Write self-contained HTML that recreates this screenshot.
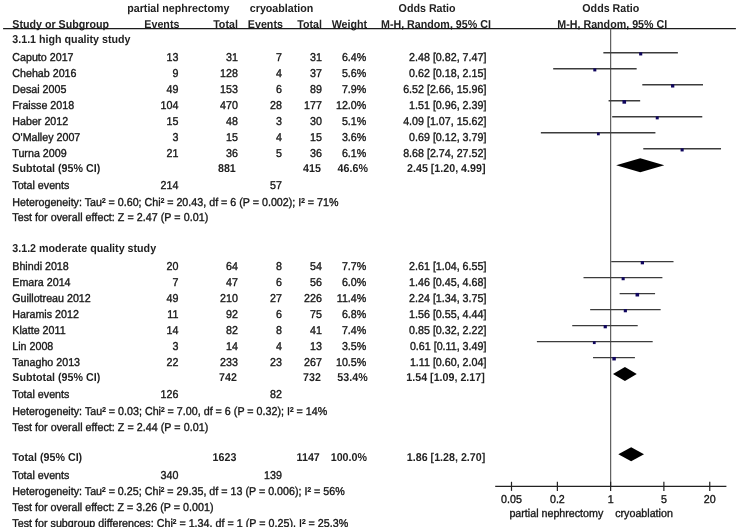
<!DOCTYPE html>
<html><head><meta charset="utf-8"><style>
html,body{margin:0;padding:0;background:#fff;}
body{width:740px;height:531px;overflow:hidden;}
svg{display:block;will-change:transform;}
text{font-family:"Liberation Sans",Arial,sans-serif;font-size:11.4px;fill:#151515;stroke:#151515;stroke-width:0.35px;text-rendering:geometricPrecision;}
text[font-weight="bold"]{stroke:none;fill:#222;}
.ci{stroke:#3c3c3c;stroke-width:1.4;stroke-linecap:square;}
.ax{stroke:#222;stroke-width:1.2;}
.sq{fill:#10065e;}
.dm{fill:#000;}
.vl{stroke:#5e5e5e;stroke-width:1.2;}
.hl{stroke:#1c1c1c;stroke-width:1.2;}
</style></head><body>
<svg width="740" height="531" viewBox="0 0 740 531">
<line x1="3.1" y1="28.6" x2="735.9" y2="28.6" class="hl"/>
<line x1="610.63" y1="28.6" x2="610.63" y2="486.3" class="vl"/>
<line x1="604.06" y1="52.80" x2="677.17" y2="52.80" class="ci"/>
<rect x="639.13" y="52.34" width="3.12" height="3.12" class="sq"/>
<line x1="553.89" y1="68.80" x2="635.96" y2="68.80" class="ci"/>
<rect x="593.30" y="68.38" width="3.03" height="3.03" class="sq"/>
<line x1="643.00" y1="84.80" x2="702.29" y2="84.80" class="ci"/>
<rect x="671.04" y="84.27" width="3.26" height="3.26" class="sq"/>
<line x1="609.28" y1="100.80" x2="639.46" y2="100.80" class="ci"/>
<rect x="622.47" y="100.10" width="3.60" height="3.60" class="sq"/>
<line x1="612.87" y1="116.80" x2="701.58" y2="116.80" class="ci"/>
<rect x="655.75" y="116.41" width="2.97" height="2.97" class="sq"/>
<line x1="541.56" y1="132.80" x2="654.72" y2="132.80" class="ci"/>
<rect x="596.96" y="132.51" width="2.79" height="2.79" class="sq"/>
<line x1="643.98" y1="148.80" x2="720.32" y2="148.80" class="ci"/>
<rect x="680.59" y="148.36" width="3.08" height="3.08" class="sq"/>
<polygon points="616.16,165.20 640.28,158.20 664.32,165.20 640.28,172.20" class="dm"/>
<line x1="611.93" y1="261.60" x2="672.82" y2="261.60" class="ci"/>
<rect x="640.75" y="261.08" width="3.24" height="3.24" class="sq"/>
<line x1="584.21" y1="277.60" x2="661.70" y2="277.60" class="ci"/>
<rect x="621.62" y="277.16" width="3.07" height="3.07" class="sq"/>
<line x1="620.31" y1="293.60" x2="654.37" y2="293.60" class="ci"/>
<rect x="635.54" y="292.92" width="3.56" height="3.56" class="sq"/>
<line x1="590.85" y1="309.60" x2="659.95" y2="309.60" class="ci"/>
<rect x="623.77" y="309.12" width="3.16" height="3.16" class="sq"/>
<line x1="572.93" y1="325.60" x2="637.02" y2="325.60" class="ci"/>
<rect x="603.65" y="325.09" width="3.21" height="3.21" class="sq"/>
<line x1="537.59" y1="341.60" x2="651.99" y2="341.60" class="ci"/>
<rect x="592.89" y="341.31" width="2.77" height="2.77" class="sq"/>
<line x1="593.73" y1="357.60" x2="634.22" y2="357.60" class="ci"/>
<rect x="612.34" y="356.96" width="3.48" height="3.48" class="sq"/>
<polygon points="612.98,374.00 624.92,367.00 636.76,374.00 624.92,381.00" class="dm"/>
<polygon points="618.30,454.30 631.16,447.30 644.00,454.30 631.16,461.30" class="dm"/>
<line x1="495.2" y1="486.3" x2="726.4" y2="486.3" class="ax"/>
<line x1="511.50" y1="481.8" x2="511.50" y2="490.90000000000003" class="ax"/>
<line x1="557.38" y1="481.8" x2="557.38" y2="490.90000000000003" class="ax"/>
<line x1="610.63" y1="481.8" x2="610.63" y2="490.90000000000003" class="ax"/>
<line x1="663.88" y1="481.8" x2="663.88" y2="490.90000000000003" class="ax"/>
<line x1="709.76" y1="481.8" x2="709.76" y2="490.90000000000003" class="ax"/>
<g transform="scale(0.9386,1)">
<text x="135.52" y="11.80" font-weight="bold">partial nephrectomy</text>
<text x="266.14" y="11.80" font-weight="bold">cryoablation</text>
<text x="424.68" y="11.80" font-weight="bold">Odds Ratio</text>
<text x="620.39" y="11.80" font-weight="bold">Odds Ratio</text>
<text x="13.10" y="27.80" font-weight="bold">Study or Subgroup</text>
<text x="191.14" y="27.80" text-anchor="end" font-weight="bold">Events</text>
<text x="253.46" y="27.80" text-anchor="end" font-weight="bold">Total</text>
<text x="301.41" y="27.80" text-anchor="end" font-weight="bold">Events</text>
<text x="342.96" y="27.80" text-anchor="end" font-weight="bold">Total</text>
<text x="391.11" y="27.80" text-anchor="end" font-weight="bold">Weight</text>
<text x="405.92" y="27.80" font-weight="bold">M-H, Random, 95% CI</text>
<text x="593.76" y="27.80" font-weight="bold">M-H, Random, 95% CI</text>
<text x="13.10" y="43.20" font-weight="bold">3.1.1 high quality study</text>
<text x="13.10" y="61.10">Caputo 2017</text>
<text x="190.07" y="61.10" text-anchor="end">13</text>
<text x="253.46" y="61.10" text-anchor="end">31</text>
<text x="300.34" y="61.10" text-anchor="end">7</text>
<text x="342.96" y="61.10" text-anchor="end">31</text>
<text x="390.26" y="61.10" text-anchor="end">6.4%</text>
<text x="518.22" y="61.10" text-anchor="end">2.48 [0.82, 7.47]</text>
<text x="13.10" y="77.10">Chehab 2016</text>
<text x="190.07" y="77.10" text-anchor="end">9</text>
<text x="253.46" y="77.10" text-anchor="end">128</text>
<text x="300.34" y="77.10" text-anchor="end">4</text>
<text x="342.96" y="77.10" text-anchor="end">37</text>
<text x="390.26" y="77.10" text-anchor="end">5.6%</text>
<text x="518.22" y="77.10" text-anchor="end">0.62 [0.18, 2.15]</text>
<text x="13.10" y="93.10">Desai 2005</text>
<text x="190.07" y="93.10" text-anchor="end">49</text>
<text x="253.46" y="93.10" text-anchor="end">153</text>
<text x="300.34" y="93.10" text-anchor="end">6</text>
<text x="342.96" y="93.10" text-anchor="end">89</text>
<text x="390.26" y="93.10" text-anchor="end">7.9%</text>
<text x="518.22" y="93.10" text-anchor="end">6.52 [2.66, 15.96]</text>
<text x="13.10" y="109.10">Fraisse 2018</text>
<text x="190.07" y="109.10" text-anchor="end">104</text>
<text x="253.46" y="109.10" text-anchor="end">470</text>
<text x="300.34" y="109.10" text-anchor="end">28</text>
<text x="342.96" y="109.10" text-anchor="end">177</text>
<text x="390.26" y="109.10" text-anchor="end">12.0%</text>
<text x="518.22" y="109.10" text-anchor="end">1.51 [0.96, 2.39]</text>
<text x="13.10" y="125.10">Haber 2012</text>
<text x="190.07" y="125.10" text-anchor="end">15</text>
<text x="253.46" y="125.10" text-anchor="end">48</text>
<text x="300.34" y="125.10" text-anchor="end">3</text>
<text x="342.96" y="125.10" text-anchor="end">30</text>
<text x="390.26" y="125.10" text-anchor="end">5.1%</text>
<text x="518.22" y="125.10" text-anchor="end">4.09 [1.07, 15.62]</text>
<text x="13.10" y="141.10">O'Malley 2007</text>
<text x="190.07" y="141.10" text-anchor="end">3</text>
<text x="253.46" y="141.10" text-anchor="end">15</text>
<text x="300.34" y="141.10" text-anchor="end">4</text>
<text x="342.96" y="141.10" text-anchor="end">15</text>
<text x="390.26" y="141.10" text-anchor="end">3.6%</text>
<text x="518.22" y="141.10" text-anchor="end">0.69 [0.12, 3.79]</text>
<text x="13.10" y="157.10">Turna 2009</text>
<text x="190.07" y="157.10" text-anchor="end">21</text>
<text x="253.46" y="157.10" text-anchor="end">36</text>
<text x="300.34" y="157.10" text-anchor="end">5</text>
<text x="342.96" y="157.10" text-anchor="end">36</text>
<text x="390.26" y="157.10" text-anchor="end">6.1%</text>
<text x="518.22" y="157.10" text-anchor="end">8.68 [2.74, 27.52]</text>
<text x="13.10" y="172.30" font-weight="bold">Subtotal (95% CI)</text>
<text x="251.23" y="172.30" text-anchor="end" font-weight="bold">881</text>
<text x="341.89" y="172.30" text-anchor="end" font-weight="bold">415</text>
<text x="391.97" y="172.30" text-anchor="end" font-weight="bold">46.6%</text>
<text x="517.26" y="172.30" text-anchor="end" font-weight="bold">2.45 [1.20, 4.99]</text>
<text x="13.10" y="189.10">Total events</text>
<text x="190.07" y="189.10" text-anchor="end">214</text>
<text x="300.34" y="189.10" text-anchor="end">57</text>
<text x="13.10" y="205.70" textLength="347.53" lengthAdjust="spacing">Heterogeneity: Tau² = 0.60; Chi² = 20.43, df = 6 (P = 0.002); I² = 71%</text>
<text x="13.10" y="221.30" textLength="208.76" lengthAdjust="spacing">Test for overall effect: Z = 2.47 (P = 0.01)</text>
<text x="13.10" y="252.40" font-weight="bold">3.1.2 moderate quality study</text>
<text x="13.10" y="269.90">Bhindi 2018</text>
<text x="190.07" y="269.90" text-anchor="end">20</text>
<text x="253.46" y="269.90" text-anchor="end">64</text>
<text x="300.34" y="269.90" text-anchor="end">8</text>
<text x="342.96" y="269.90" text-anchor="end">54</text>
<text x="390.26" y="269.90" text-anchor="end">7.7%</text>
<text x="518.22" y="269.90" text-anchor="end">2.61 [1.04, 6.55]</text>
<text x="13.10" y="285.90">Emara 2014</text>
<text x="190.07" y="285.90" text-anchor="end">7</text>
<text x="253.46" y="285.90" text-anchor="end">47</text>
<text x="300.34" y="285.90" text-anchor="end">6</text>
<text x="342.96" y="285.90" text-anchor="end">56</text>
<text x="390.26" y="285.90" text-anchor="end">6.0%</text>
<text x="518.22" y="285.90" text-anchor="end">1.46 [0.45, 4.68]</text>
<text x="13.10" y="301.90">Guillotreau 2012</text>
<text x="190.07" y="301.90" text-anchor="end">49</text>
<text x="253.46" y="301.90" text-anchor="end">210</text>
<text x="300.34" y="301.90" text-anchor="end">27</text>
<text x="342.96" y="301.90" text-anchor="end">226</text>
<text x="390.26" y="301.90" text-anchor="end">11.4%</text>
<text x="518.22" y="301.90" text-anchor="end">2.24 [1.34, 3.75]</text>
<text x="13.10" y="317.90">Haramis 2012</text>
<text x="190.07" y="317.90" text-anchor="end">11</text>
<text x="253.46" y="317.90" text-anchor="end">92</text>
<text x="300.34" y="317.90" text-anchor="end">6</text>
<text x="342.96" y="317.90" text-anchor="end">75</text>
<text x="390.26" y="317.90" text-anchor="end">6.8%</text>
<text x="518.22" y="317.90" text-anchor="end">1.56 [0.55, 4.44]</text>
<text x="13.10" y="333.90">Klatte 2011</text>
<text x="190.07" y="333.90" text-anchor="end">14</text>
<text x="253.46" y="333.90" text-anchor="end">82</text>
<text x="300.34" y="333.90" text-anchor="end">8</text>
<text x="342.96" y="333.90" text-anchor="end">41</text>
<text x="390.26" y="333.90" text-anchor="end">7.4%</text>
<text x="518.22" y="333.90" text-anchor="end">0.85 [0.32, 2.22]</text>
<text x="13.10" y="349.90">Lin 2008</text>
<text x="190.07" y="349.90" text-anchor="end">3</text>
<text x="253.46" y="349.90" text-anchor="end">14</text>
<text x="300.34" y="349.90" text-anchor="end">4</text>
<text x="342.96" y="349.90" text-anchor="end">13</text>
<text x="390.26" y="349.90" text-anchor="end">3.5%</text>
<text x="518.22" y="349.90" text-anchor="end">0.61 [0.11, 3.49]</text>
<text x="13.10" y="365.90">Tanagho 2013</text>
<text x="190.07" y="365.90" text-anchor="end">22</text>
<text x="253.46" y="365.90" text-anchor="end">233</text>
<text x="300.34" y="365.90" text-anchor="end">23</text>
<text x="342.96" y="365.90" text-anchor="end">267</text>
<text x="390.26" y="365.90" text-anchor="end">10.5%</text>
<text x="518.22" y="365.90" text-anchor="end">1.11 [0.60, 2.04]</text>
<text x="13.10" y="381.20" font-weight="bold">Subtotal (95% CI)</text>
<text x="252.40" y="381.20" text-anchor="end" font-weight="bold">742</text>
<text x="341.89" y="381.20" text-anchor="end" font-weight="bold">732</text>
<text x="391.75" y="381.20" text-anchor="end" font-weight="bold">53.4%</text>
<text x="516.51" y="381.20" text-anchor="end" font-weight="bold">1.54 [1.09, 2.17]</text>
<text x="13.10" y="398.30">Total events</text>
<text x="190.07" y="398.30" text-anchor="end">126</text>
<text x="300.34" y="398.30" text-anchor="end">82</text>
<text x="13.10" y="414.60" textLength="335.62" lengthAdjust="spacing">Heterogeneity: Tau² = 0.03; Chi² = 7.00, df = 6 (P = 0.32); I² = 14%</text>
<text x="13.10" y="430.60" textLength="208.76" lengthAdjust="spacing">Test for overall effect: Z = 2.44 (P = 0.01)</text>
<text x="13.10" y="461.40" font-weight="bold">Total (95% CI)</text>
<text x="251.86" y="461.40" text-anchor="end" font-weight="bold">1623</text>
<text x="340.72" y="461.40" text-anchor="end" font-weight="bold">1147</text>
<text x="391.01" y="461.40" text-anchor="end" font-weight="bold">100.0%</text>
<text x="517.05" y="461.40" text-anchor="end" font-weight="bold">1.86 [1.28, 2.70]</text>
<text x="13.10" y="478.60">Total events</text>
<text x="190.07" y="478.60" text-anchor="end">340</text>
<text x="300.34" y="478.60" text-anchor="end">139</text>
<text x="13.10" y="494.70" textLength="354.19" lengthAdjust="spacing">Heterogeneity: Tau² = 0.25; Chi² = 29.35, df = 13 (P = 0.006); I² = 56%</text>
<text x="13.10" y="510.60" textLength="214.34" lengthAdjust="spacing">Test for overall effect: Z = 3.26 (P = 0.001)</text>
<text x="13.10" y="526.80" textLength="357.98" lengthAdjust="spacing">Test for subgroup differences: Chi² = 1.34, df = 1 (P = 0.25), I² = 25.3%</text>
<text x="544.97" y="502.80" text-anchor="middle">0.05</text>
<text x="593.84" y="502.80" text-anchor="middle">0.2</text>
<text x="650.58" y="502.80" text-anchor="middle">1</text>
<text x="707.31" y="502.80" text-anchor="middle">5</text>
<text x="756.19" y="502.80" text-anchor="middle">20</text>
<text x="542.72" y="517.30">partial nephrectomy</text>
<text x="655.44" y="517.30">cryoablation</text>
</g>
<rect x="0" y="527.0" width="740" height="4" fill="#fff"/>
</svg>
</body></html>
